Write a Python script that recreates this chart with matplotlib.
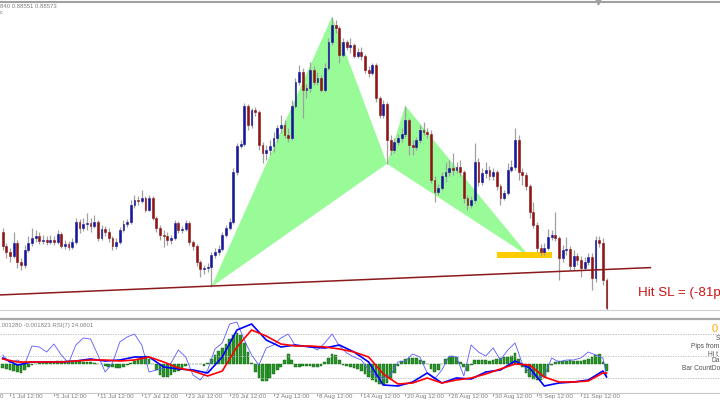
import numpy as np
import matplotlib
matplotlib.use("Agg")
import matplotlib.pyplot as plt
from matplotlib.transforms import blended_transform_factory, ScaledTranslation

plt.rcParams['font.family'] = ['Liberation Sans', 'DejaVu Sans']

# EURGBP 8h bars, 28 Jun 16:00 .. 13 Sep 16:00 (2019), prices in points (1e-5)
opens = [89720, 89510, 89420, 89360, 89555, 89270, 89225, 89450, 89555, 89630,
         89660, 89585, 89600, 89570, 89600, 89570, 89690, 89510, 89540, 89495,
         89570, 89870, 89780, 89840, 89855, 89810, 89870, 89630, 89765, 89720,
         89630, 89510, 89570, 89750, 89840, 89870, 90125, 90200, 90185, 90230,
         90050, 90230, 89930, 89780, 89675, 89660, 89600, 89630, 89855, 89750,
         89765, 89855, 89570, 89510, 89270, 89165, 89180, 89195, 89375, 89420,
         89465, 89675, 89780, 89870, 90620, 91010, 91040, 91610, 91325, 91550,
         91520, 91025, 90905, 90950, 91010, 91130, 91280, 91325, 91175, 91130,
         91610, 91970, 92120, 91850, 91880, 92150, 91970, 92030, 91850, 92180,
         92570, 92825, 92780, 92375, 92570, 92495, 92525, 92360, 92420, 92360,
         92150, 92105, 92225, 91730, 91475, 91640, 91100, 90950, 91070, 91130,
         91190, 91400, 91025, 90995, 91100, 91250, 91220, 91190, 90500, 90320,
         90380, 90560, 90620, 90680, 90650, 90695, 90620, 90230, 90125, 90200,
         90770, 90470, 90605, 90650, 90560, 90620, 90410, 90230, 90305, 90650,
         90695, 91100, 90620, 90575, 90410, 90020, 89825, 89480, 89420, 89480,
         89645, 89675, 89630, 89330, 89450, 89465, 89210, 89360, 89300, 89180,
         89270, 89345, 89030, 89600, 89555, 89000]
highs = [89780, 89555, 89480, 89720, 89600, 89330, 89525, 89660, 89780, 89750,
         89720, 89675, 89660, 89675, 89660, 89750, 89720, 89600, 89585, 89630,
         89930, 89915, 89930, 90005, 89930, 89975, 89900, 89825, 89810, 89780,
         89660, 89630, 89795, 89900, 89915, 90200, 90275, 90260, 90350, 90260,
         90275, 90260, 89960, 89825, 89750, 89720, 89675, 89900, 89885, 89810,
         89900, 89885, 89600, 89540, 89300, 89225, 89255, 89420, 89480, 89525,
         89720, 89825, 89930, 90680, 91055, 91100, 91655, 91640, 91580, 91595,
         91550, 91070, 91025, 91100, 91220, 91325, 91475, 91400, 91280, 91700,
         92030, 92225, 92180, 91940, 92270, 92210, 92120, 92075, 92255, 92630,
         92945, 92900, 92810, 92630, 92600, 92630, 92555, 92480, 92495, 92390,
         92210, 92255, 92255, 91760, 91700, 91670, 91175, 91130, 91190, 91280,
         91610, 91430, 91100, 91145, 91325, 91370, 91280, 91250, 90560, 90440,
         90620, 90770, 90800, 90905, 90770, 90800, 90650, 90275, 90260, 91055,
         90830, 90680, 90770, 90710, 90680, 90650, 90440, 90350, 90755, 90800,
         91280, 91175, 90680, 90620, 90440, 90170, 89870, 89540, 89555, 89765,
         89750, 90020, 89660, 89525, 89645, 89510, 89450, 89405, 89360, 89345,
         89405, 89405, 89660, 89660, 89630, 89030]
lows = [89450, 89330, 89270, 89330, 89180, 89150, 89180, 89420, 89510, 89570,
        89540, 89540, 89525, 89540, 89525, 89540, 89480, 89465, 89450, 89465,
        89540, 89705, 89735, 89750, 89720, 89780, 89585, 89600, 89660, 89570,
        89450, 89465, 89540, 89720, 89795, 89840, 90080, 90125, 90155, 90020,
        90035, 89900, 89720, 89600, 89495, 89525, 89540, 89600, 89705, 89705,
        89735, 89525, 89450, 89210, 89045, 89090, 89120, 88895, 89330, 89375,
        89435, 89645, 89750, 89840, 90575, 90980, 91010, 91250, 91280, 91460,
        90950, 90755, 90800, 90875, 90920, 91070, 91205, 91130, 91070, 91100,
        91580, 91925, 91430, 91730, 91820, 91925, 91925, 91820, 91820, 92150,
        92525, 92705, 92255, 92345, 92450, 92405, 92330, 92330, 92300, 92105,
        92045, 92075, 91670, 91430, 91430, 90740, 90875, 90905, 91025, 91070,
        91145, 90875, 90875, 90950, 91055, 91175, 91130, 90455, 90170, 90275,
        90350, 90470, 90560, 90575, 90605, 90560, 90155, 90050, 90080, 90155,
        90410, 90425, 90530, 90500, 90500, 90350, 90125, 90200, 90275, 90620,
        90650, 90500, 90425, 90350, 89930, 89780, 89420, 89360, 89375, 89450,
        89600, 89585, 89000, 89270, 89375, 89150, 89150, 89225, 89045, 89150,
        89225, 88850, 88970, 89495, 88925, 88550]
closes = [89510, 89420, 89360, 89555, 89270, 89225, 89450, 89555, 89630, 89660,
          89585, 89600, 89570, 89600, 89570, 89690, 89510, 89540, 89495, 89570,
          89870, 89780, 89840, 89855, 89810, 89870, 89630, 89765, 89720, 89630,
          89510, 89570, 89750, 89840, 89870, 90125, 90200, 90185, 90230, 90050,
          90230, 89930, 89780, 89675, 89660, 89600, 89630, 89855, 89750, 89765,
          89855, 89570, 89510, 89270, 89165, 89180, 89195, 89375, 89420, 89465,
          89675, 89780, 89870, 90620, 91010, 91040, 91610, 91325, 91550, 91520,
          91025, 90905, 90950, 91010, 91130, 91280, 91325, 91175, 91130, 91610,
          91970, 92120, 91850, 91880, 92150, 91970, 92030, 91850, 92180, 92570,
          92825, 92780, 92375, 92570, 92495, 92525, 92360, 92420, 92360, 92150,
          92105, 92225, 91730, 91475, 91640, 91100, 90950, 91070, 91130, 91190,
          91400, 91025, 90995, 91100, 91250, 91220, 91190, 90500, 90320, 90380,
          90560, 90620, 90680, 90650, 90695, 90620, 90230, 90125, 90200, 90770,
          90470, 90605, 90650, 90560, 90620, 90410, 90230, 90305, 90650, 90695,
          91100, 90620, 90575, 90410, 90020, 89825, 89480, 89420, 89480, 89645,
          89675, 89630, 89330, 89450, 89465, 89210, 89360, 89300, 89180, 89270,
          89345, 89030, 89600, 89555, 89000, 88580]

# time axis labels (trading days from 1 Jul, 3 bars per day)
date_labels = ['1 Jul 12:00', '5 Jul 12:00', '11 Jul 12:00', '17 Jul 12:00',
               '23 Jul 12:00', '29 Jul 12:00', '2 Aug 12:00', '8 Aug 12:00', '14 Aug 12:00',
               '20 Aug 12:00', '26 Aug 12:00', '30 Aug 12:00', '5 Sep 12:00', '11 Sep 12:00']
date_days = [0, 4, 8, 12, 16, 20, 24, 28, 32, 36, 40, 44, 48, 52]

# harmonic pattern X A B C D
pat_bar = [57, 90, 105, 110, 144]
pat_price = [0.88895, 0.92945, 0.90740, 0.91610, 0.89345]

trend_bar = [-1, 177]
trend_price = [0.88775, 0.89185]
zone_bar = [135, 150]
zone_price = [0.89330, 0.89420]

# sub window: OsMA histogram (1e-5), MACD lines every 4 bars, RSI(7) every 2 bars
hist = [-60, -75, -90, -105, -120, -135, -90, -45, -15, 0,
        15, 15, 30, 30, 30, 45, 45, 45, 45, 45,
        45, 45, 30, 30, 30, 15, 0, 0, -30, -45,
        -45, -60, -60, -45, -15, 15, 45, 75, 105, 120,
        75, 0, -90, -165, -195, -195, -165, -120, -105, -75,
        -30, 0, 0, 0, 0, -30, 15, 75, 135, 195,
        240, 300, 375, 435, 465, 435, 315, 180, 15, -120,
        -210, -255, -255, -210, -150, -90, -45, 60, 150, 60,
        -45, -45, -30, -30, -30, -45, -45, -30, 30, 90,
        150, 135, 60, -15, -30, -45, -60, -75, -105, -150,
        -195, -240, -270, -300, -315, -285, -225, -135, -30, 45,
        75, 90, 90, 90, 60, 45, 0, -75, -120, -90,
        0, 75, 105, 120, 105, 30, -45, -105, -15, 60,
        60, 60, 60, 45, 60, 75, 90, 105, 105, 120,
        165, 75, -45, -135, -195, -225, -240, -240, -195, -120,
        -15, 30, 45, 45, 45, 60, 45, 45, 45, 60,
        75, 105, 135, 150, 30, -105]
macd_main = [0.00090, -0.00015, 0.00030, 0.00030, 0.00030, 0.00045, 0.00075, 0.00045, 0.00060, 0.00105,
             0.00105, -0.00045, -0.00075, -0.00090, -0.00135, 0.00105, 0.00510, 0.00600, 0.00360, 0.00255,
             0.00285, 0.00255, 0.00240, 0.00285, 0.00180, 0.00030, -0.00315, -0.00330, -0.00270, -0.00135,
             -0.00285, -0.00210, -0.00225, -0.00120, -0.00090, 0.00045, -0.00060, -0.00330, -0.00285, -0.00270,
             -0.00240, -0.00105, -0.00195]
macd_signal = [0.00075, 0.00030, 0.00030, 0.00030, 0.00030, 0.00045, 0.00060, 0.00060, 0.00045, 0.00060,
               0.00105, 0.00030, -0.00060, -0.00105, -0.00180, -0.00105, 0.00255, 0.00510, 0.00420, 0.00300,
               0.00270, 0.00270, 0.00255, 0.00225, 0.00180, 0.00105, -0.00150, -0.00300, -0.00285, -0.00210,
               -0.00285, -0.00240, -0.00210, -0.00150, -0.00075, 0.00000, -0.00015, -0.00195, -0.00270, -0.00270,
               -0.00255, -0.00135, -0.00135]
rsi = [51.4, 40.5, 44.6, 39.2, 63.5, 62.2, 55.4, 66.2, 51.4, 40.5,
       64.9, 74.3, 73.0, 51.4, 28.4, 40.5, 68.9, 75.7, 79.7, 64.9,
       28.4, 31.1, 33.8, 40.5, 58.1, 48.6, 24.3, 17.6, 31.1, 59.5,
       67.6, 93.2, 95.9, 71.6, 51.4, 37.8, 60.8, 64.9, 74.3, 79.7,
       63.5, 63.5, 63.5, 58.1, 67.6, 79.7, 63.5, 54.1, 48.6, 44.6,
       31.1, 23.0, 20.3, 24.3, 41.9, 43.2, 52.7, 48.6, 27.0, 18.9,
       31.1, 50.0, 48.6, 23.0, 64.9, 55.4, 50.0, 60.8, 44.6, 58.1,
       67.6, 39.2, 27.0, 21.6, 23.0, 47.3, 41.9, 44.6, 44.6, 47.3,
       55.4, 51.4, 47.3, 24.1]
rsi_levels = [20, 50, 80]

o = np.array(opens) / 1e5
h = np.array(highs) / 1e5
l = np.array(lows) / 1e5
c = np.array(closes) / 1e5
idx = np.arange(len(c))
up = c >= o

fig = plt.figure(figsize=(7.2, 4.05), dpi=100)
H = 405.0
ax = fig.add_axes([0, 1 - 310 / H, 1, 308.5 / H])
ax_h = fig.add_axes([0, 1 - 393 / H, 1, 74 / H], sharex=ax)

ax.set_xlim(-0.74, 196.0)
ax.set_ylim(0.88550, 0.93170)

# pattern triangles
ax.fill([pat_bar[0], pat_bar[1], pat_bar[2]], [pat_price[0], pat_price[1], pat_price[2]],
        color='#98fb98', lw=0, zorder=1)
ax.fill([pat_bar[2], pat_bar[3], pat_bar[4]], [pat_price[2], pat_price[3], pat_price[4]],
        color='#98fb98', lw=0, zorder=1)
ax.fill_between(zone_bar, zone_price[0], zone_price[1], color='#ffcc00', lw=0, zorder=2)

# candles
ax.vlines(idx, l, h, color='#a0a0a0', lw=0.9, zorder=3)
body_lo = np.minimum(o, c)
body_h = np.abs(c - o)
ax.bar(idx[up], body_h[up], bottom=body_lo[up], width=0.5, color='#16169a',
       edgecolor='#16169a', lw=0.4, zorder=4)
ax.bar(idx[~up], body_h[~up], bottom=body_lo[~up], width=0.5, color='#8e1515',
       edgecolor='#8e1515', lw=0.4, zorder=4)

ax.plot(trend_bar, trend_price, color='#8b1a1a', lw=1.1, zorder=5, clip_on=False)
ax.text(173.6, 0.88805, 'Hit SL = (-81p', color='#cc1414', fontsize=9.6, va='center', ha='left')

for side in ['left', 'right']:
    ax.spines[side].set_visible(False)
ax.spines['top'].set_color('#a0a0a0')
ax.spines['top'].set_linewidth(1.5)
ax.spines['bottom'].set_color('#d0d0d0')
ax.spines['bottom'].set_linewidth(0.8)
ax.set_yticks([])
ax.tick_params(axis='x', length=0, labelbottom=False)
ax.plot([0.83], [1.0], marker='v', color='#a0a0a0', ms=3.5, transform=ax.transAxes, clip_on=False)

fig.text(0.0, 1 - 6 / H, '840 0.88551 0.88573', fontsize=4.3, color='#808080', va='center')
fig.text(0.0, 1 - 12.5 / H, 'c', fontsize=4.3, color='#808080', va='center')

# sub window
ax_h.set_ylim(-0.00435, 0.00675)
ax_h.bar(idx, np.array(hist) / 1e5, width=0.75, color='#279427', edgecolor='#0f600f', lw=0.3, zorder=2)
ax_r = ax_h.twinx()
ax_r.set_ylim(0, 100)
for lv in rsi_levels:
    ax_r.axhline(lv, color='#b4b4b4', lw=0.6, ls=(0, (1.5, 1.5)), zorder=1)
rsi_x = np.r_[np.arange(0, 165, 2), 165]
ax_r.plot(rsi_x, rsi, color='#5a5aff', lw=0.6)
ax_m = ax_h.twinx()
ax_m.set_ylim(-0.00435, 0.00675)
macd_x = np.r_[np.arange(0, 165, 4), 165]
ax_m.plot(macd_x, macd_main, color='#0000ff', lw=1.2)
ax_m.plot(macd_x, macd_signal, color='#ff0000', lw=1.2)

for a in [ax_r, ax_m]:
    a.set_yticks([])
    for s in a.spines.values():
        s.set_visible(False)
for side in ['left', 'right']:
    ax_h.spines[side].set_visible(False)
ax_h.spines['top'].set_color('#a8a8a8')
ax_h.spines['top'].set_linewidth(1.6)
ax_h.spines['bottom'].set_color('#c8c8c8')
ax_h.spines['bottom'].set_linewidth(0.8)
ax_h.set_yticks([])

tick_pos = [2 + 3 * d for d in date_days]
ax_h.set_xticks(tick_pos)
ax_h.tick_params(axis='x', length=2.5, color='#a0a0a0', labelbottom=False)
tr = blended_transform_factory(ax_h.transData, ax_h.transAxes) + ScaledTranslation(0.02, 0, fig.dpi_scale_trans)
for lab, p in zip(date_labels, tick_pos):
    ax_h.text(p, -0.02, lab, transform=tr, fontsize=4.5, color='#808080', ha='left', va='top', clip_on=False)
ax_h.set_xlim(-0.74, 196.0)
# tail of the previous (cut) date label at the left edge
fig.text(0.0, 1 - 397 / H, '0', fontsize=4.5, color='#808080', va='center')

fig.text(0.0, 1 - 325 / H, '.001280 -0.001823 RSI(7) 24.0801', fontsize=4.3, color='#808080', va='center')
fig.text(712 / 720, 1 - 329 / H, '0', fontsize=8, color='#ffa500', va='center')
right_labels = ['S', 'Pips from', 'Hi t', 'Da', 'Bar CountDo']
right_x = [716, 691, 708, 712, 682]
right_y = [338, 346, 354, 361, 369]
for t, xx, yy in zip(right_labels, right_x, right_y):
    fig.text(xx / 720, 1 - yy / H, t, fontsize=4.8, color='#505050', va='center')

fig.savefig('out.png', dpi=100, facecolor='white')
